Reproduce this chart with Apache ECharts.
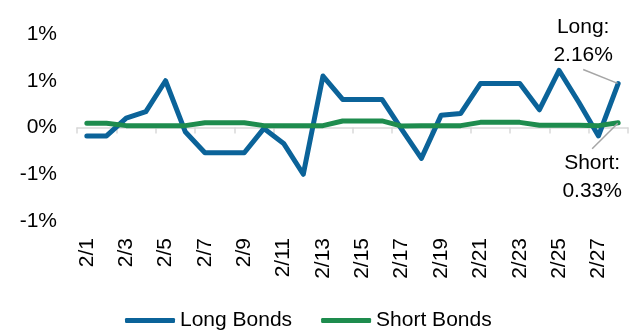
<!DOCTYPE html>
<html><head><meta charset="utf-8">
<script src="https://cdn.jsdelivr.net/npm/echarts@6/dist/echarts.min.js"></script>
<style>html,body{margin:0;padding:0;background:#fff}#c{width:636px;height:333px}</style>
</head><body><div id="c"></div>
<script>
const categories = ['2/1','2/2','2/3','2/4','2/5','2/6','2/7','2/8','2/9','2/10','2/11','2/12','2/13','2/14','2/15','2/16','2/17','2/18','2/19','2/20','2/21','2/22','2/23','2/24','2/25','2/26','2/27','2/28'];
const longBonds = [-0.09,-0.09,0.10,0.17,0.50,-0.045,-0.27,-0.27,-0.27,-0.01,-0.17,-0.50,0.55,0.30,0.30,0.30,-0.02,-0.33,0.13,0.15,0.47,0.47,0.47,0.19,0.61,0.27,-0.09,0.47];
const shortBonds = [0.045,0.045,0.02,0.02,0.02,0.02,0.05,0.05,0.05,0.02,0.02,0.02,0.02,0.07,0.07,0.07,0.015,0.02,0.02,0.02,0.055,0.055,0.055,0.025,0.025,0.025,0.02,0.05];
const yTickValues = [-1,-0.5,0,0.5,1];
const yTickLabels = ['-1%','-1%','0%','1%','1%'];
const seriesNames = ['Long Bonds','Short Bonds'];
const endLabels = ['Long:\n2.16%','Short:\n0.33%'];

const FONT = 'Liberation Sans, Arial, sans-serif';
const colors = ['#0B6399','#1E8C4E'];

function withEndLabel(values, text) {
  const last = values.length - 1;
  return values.map((v, i) => i === last ? {
    value: v,
    label: {show: true, formatter: text}
  } : v);
}

const chart = echarts.init(document.getElementById('c'), null, {renderer: 'canvas'});
chart.setOption({
  animation: false,
  color: colors,
  textStyle: {fontFamily: FONT},
  grid: {left: 77, right: 8, top: 34, bottom: 112},
  legend: {
    top: 305, left: 120,
    icon: 'roundRect', itemWidth: 50, itemHeight: 5, itemGap: 29,
    textStyle: {fontSize: 21, color: '#000', fontFamily: FONT},
    data: seriesNames
  },
  xAxis: [{
    type: 'category', data: categories, boundaryGap: true,
    axisLine: {show: false, onZero: false},
    axisTick: {show: false},
    axisLabel: {interval: 1, rotate: 90, fontSize: 21, color: '#000', margin: 17, fontFamily: FONT}
  }, {
    type: 'category', data: categories, boundaryGap: true, position: 'bottom',
    axisLine: {show: true, onZero: true, lineStyle: {color: '#D9D9D9', width: 1.5}},
    axisTick: {show: true, interval: 1, length: 6, lineStyle: {color: '#D9D9D9', width: 1.5}},
    axisLabel: {show: false}
  }],
  yAxis: {
    type: 'value', min: -1, max: 1, interval: 0.5,
    splitLine: {show: false}, axisLine: {show: false}, axisTick: {show: false},
    axisLabel: {
      fontSize: 21, color: '#000', margin: 20, fontFamily: FONT,
      formatter: v => yTickLabels[yTickValues.indexOf(Math.round(v * 2) / 2)]
    }
  },
  series: [{
    name: seriesNames[1], type: 'line', xAxisIndex: 0,
    data: withEndLabel(shortBonds, endLabels[1]),
    symbol: 'circle', symbolSize: 1, showSymbol: true,
    lineStyle: {width: 5, color: colors[1], cap: 'round', join: 'round'},
    itemStyle: {color: colors[1]},
    label: {show: false, position: 'inside', fontSize: 21, color: '#000', lineHeight: 28, align: 'center', verticalAlign: 'middle', fontFamily: FONT},
    labelLayout: {dx: -26, dy: 54},
    labelLine: {show: true, lineStyle: {color: '#A6A6A6', width: 1.5}},
    z: 2
  }, {
    name: seriesNames[0], type: 'line', xAxisIndex: 0,
    data: withEndLabel(longBonds, endLabels[0]),
    symbol: 'circle', symbolSize: 1, showSymbol: true,
    lineStyle: {width: 5, color: colors[0], cap: 'round', join: 'round'},
    itemStyle: {color: colors[0]},
    label: {show: false, position: 'inside', fontSize: 21, color: '#000', lineHeight: 28, align: 'center', verticalAlign: 'middle', fontFamily: FONT},
    labelLayout: {dx: -35, dy: -42},
    labelLine: {show: true, lineStyle: {color: '#A6A6A6', width: 1.5}},
    z: 1
  }]
});
</script></body></html>
